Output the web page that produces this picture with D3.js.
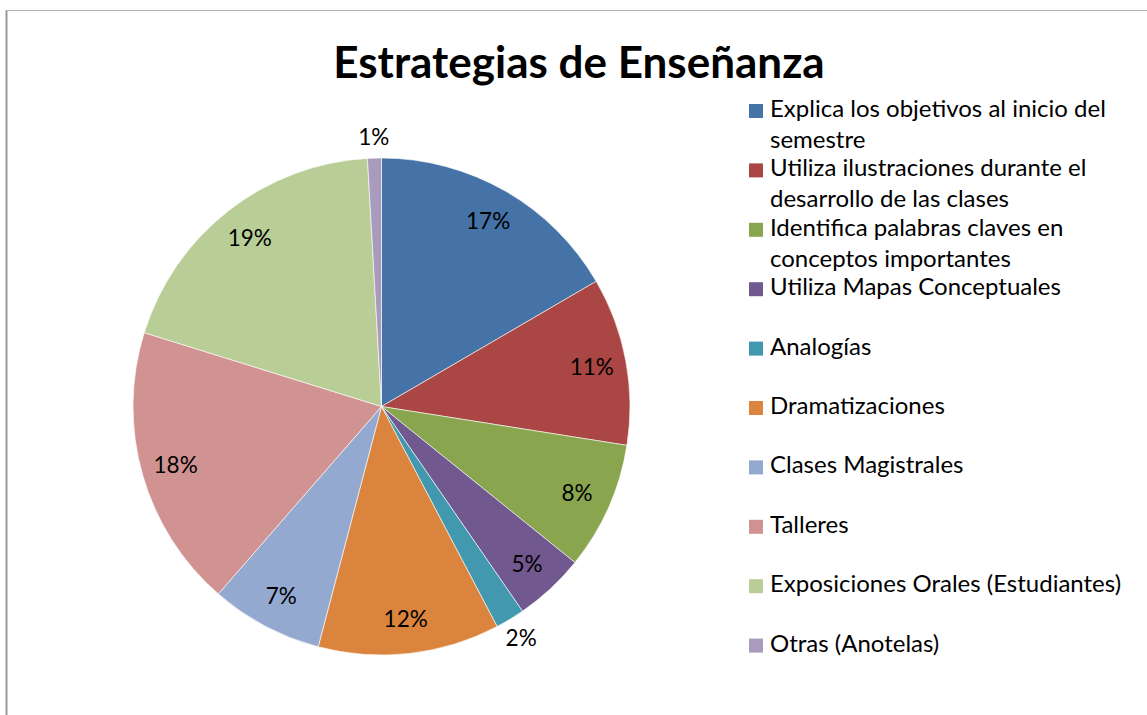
<!DOCTYPE html>
<html>
<head>
<meta charset="utf-8">
<script src="https://cdn.jsdelivr.net/npm/d3@7"></script>
<style>
  html, body { margin: 0; padding: 0; background: #fff; }
  svg { display: block; font-family: Lato, "Open Sans", sans-serif; }
</style>
</head>
<body>
<svg id="chart" width="1147" height="715"></svg>
<script>
const categories = [
  'Explica los objetivos al inicio del semestre',
  'Utiliza ilustraciones durante el desarrollo de las clases',
  'Identifica palabras claves en conceptos importantes',
  'Utiliza Mapas Conceptuales',
  'Analogías',
  'Dramatizaciones',
  'Clases Magistrales',
  'Talleres',
  'Exposiciones Orales (Estudiantes)',
  'Otras (Anotelas)'
];
// shares in percent
const values = [16.6, 10.9, 8.3, 4.6, 1.9, 11.8, 7.3, 18.4, 19.3, 0.9];
const colors = ['#4572a7', '#aa4643', '#89a54e', '#71588f', '#4198af',
  '#db843d', '#93a9cf', '#d19392', '#b9cd96', '#a99bbd'];

const svg = d3.select('#chart');
const width = 1147;
const height = 715;

// chart area frame (only left and top edges are visible)
svg.append('line')
  .attr('x1', 6.5).attr('x2', 6.5).attr('y1', 10).attr('y2', height)
  .attr('stroke', '#9a9a9a').attr('stroke-width', 2);
svg.append('line')
  .attr('x1', 6).attr('x2', width).attr('y1', 10.5).attr('y2', 10.5)
  .attr('stroke', '#b4b4b4').attr('stroke-width', 1);

// title
svg.append('text')
  .attr('x', 579).attr('y', 78)
  .attr('text-anchor', 'middle')
  .attr('font-size', 44).attr('font-weight', 'bold')
  .attr('fill', '#000')
  .text('Estrategias de Enseñanza');

// pie
const cx = 381.5, cy = 406.5, radius = 248.5;
const total = d3.sum(values);
const data = categories.map((c, i) => ({ name: c, value: values[i], color: colors[i] }));

const pie = d3.pie().sort(null).value(d => d.value);
const arc = d3.arc().innerRadius(0).outerRadius(radius);
const labelArcIn = d3.arc().innerRadius(214).outerRadius(214);
const labelArcOut = d3.arc().innerRadius(270).outerRadius(270);

const g = svg.append('g').attr('transform', `translate(${cx},${cy})`);
const arcs = pie(data);

g.selectAll('path.slice')
  .data(arcs)
  .join('path')
  .attr('class', 'slice')
  .attr('d', arc)
  .attr('fill', d => d.data.color)
  .attr('stroke', '#fff')
  .attr('stroke-width', 0.6);

g.selectAll('text.pct')
  .data(arcs)
  .join('text')
  .attr('class', 'pct')
  .attr('transform', d => {
    const p = (d.data.value < 3 ? labelArcOut : labelArcIn).centroid(d);
    return `translate(${p[0]},${p[1]})`;
  })
  .attr('text-anchor', 'middle')
  .attr('dy', '0.36em')
  .attr('font-size', 22.5)
  .attr('fill', '#000')
  .text(d => d3.format('.0%')(d.data.value / total));

// legend
const legendX = 749;
const legendTop = 117;
const legendStep = 59.4;
const lineGap = 31;
const wrapWidth = 356;

const legend = svg.append('g').attr('class', 'legend');
const items = legend.selectAll('g.item')
  .data(data)
  .join('g')
  .attr('class', 'item')
  .attr('transform', (d, i) => `translate(${legendX},${legendTop + i * legendStep})`);

items.append('rect')
  .attr('x', 0).attr('y', -13)
  .attr('width', 14).attr('height', 14)
  .attr('fill', d => d.color);

items.append('text')
  .attr('x', 21).attr('y', 0)
  .attr('font-size', 24)
  .attr('fill', '#000')
  .each(function (d) {
    const text = d3.select(this);
    const words = d.name.split(' ');
    let line = [];
    let tspan = text.append('tspan').attr('x', 21).attr('y', 0);
    let lineNo = 0;
    words.forEach(w => {
      line.push(w);
      tspan.text(line.join(' '));
      if (tspan.node().getComputedTextLength() > wrapWidth && line.length > 1) {
        line.pop();
        tspan.text(line.join(' '));
        line = [w];
        lineNo += 1;
        tspan = text.append('tspan').attr('x', 21).attr('y', lineNo * lineGap).text(w);
      }
    });
  });
</script>
</body>
</html>
